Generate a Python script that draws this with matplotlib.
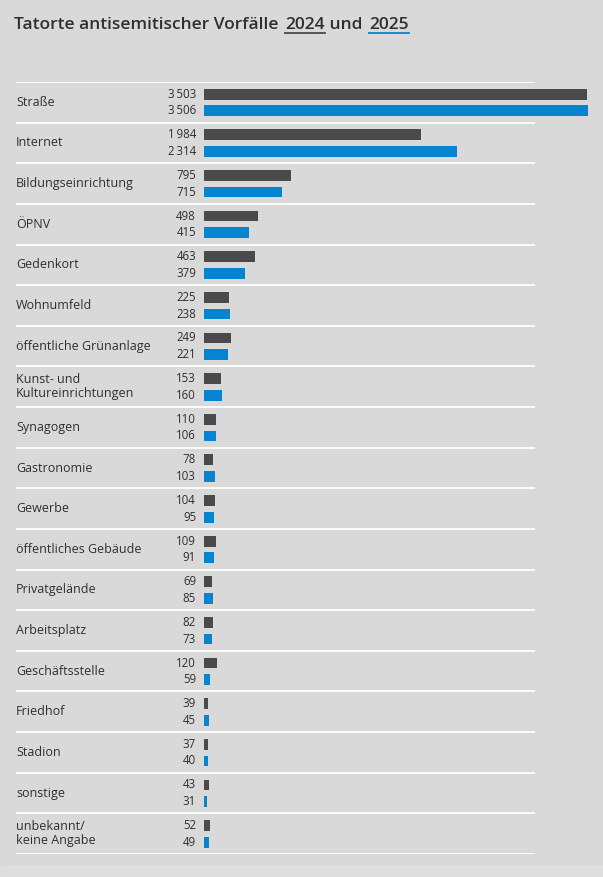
import matplotlib.pyplot as plt
from matplotlib.patches import Rectangle

categories = ["Straße", "Internet", "Bildungseinrichtung", "ÖPNV", "Gedenkort",
              "Wohnumfeld", "öffentliche Grünanlage", "Kunst- und\nKultureinrichtungen",
              "Synagogen", "Gastronomie", "Gewerbe", "öffentliches Gebäude",
              "Privatgelände", "Arbeitsplatz", "Geschäftsstelle", "Friedhof",
              "Stadion", "sonstige", "unbekannt/\nkeine Angabe"]
v2024 = [3503, 1984, 795, 498, 463, 225, 249, 153, 110, 78, 104, 109, 69, 82, 120, 39, 37, 43, 52]
v2025 = [3506, 2314, 715, 415, 379, 238, 221, 160, 106, 103, 95, 91, 85, 73, 59, 45, 40, 31, 49]

bg = "#d9d9d9"
c24 = "#4a4a4d"
c25 = "#0784cf"
txt = "#2f2f2f"
plt.rcParams['font.family'] = ['Open Sans', 'DejaVu Sans']

W, H = 603, 877
fig = plt.figure(figsize=(W / 100, H / 100), dpi=100, facecolor=bg)

# pixel layout
x_left, x_zero, x_max_px, x_sep_end = 16, 204, 587.5, 535
y_top, y_bot = 82, 854
px_per = (x_max_px - x_zero) / max(v2025)

ax = fig.add_axes([x_left / W, 1 - y_bot / H, (x_max_px + 1 - x_left) / W, (y_bot - y_top) / H])
ax.set_facecolor(bg)
ax.set_xlim(-(x_zero - x_left) / px_per, (x_max_px + 1 - x_zero) / px_per)
ax.set_ylim(len(categories), 0)
ax.axis("off")

n = len(categories)
pos24 = [i + 0.3 for i in range(n)]
pos25 = [i + 0.71 for i in range(n)]
ax.barh(pos24, v2024, height=0.265, color=c24, zorder=3)
ax.barh(pos25, v2025, height=0.265, color=c25, zorder=3)

ax.hlines(range(n + 1), ax.get_xlim()[0], (x_sep_end - x_zero) / px_per,
          color="white", lw=1.3, zorder=2)


def fmt(v):
    return f"{v:,}".replace(",", "\u2009")


num_x = -8 / px_per
for i, cat in enumerate(categories):
    ax.text(ax.get_xlim()[0], i + 0.5, cat, ha="left", va="center", fontsize=9.0,
            color=txt, linespacing=1.1)
    ax.text(num_x, pos24[i], fmt(v2024[i]), ha="right", va="center", fontsize=8.3, color=txt)
    ax.text(num_x, pos25[i], fmt(v2025[i]), ha="right", va="center", fontsize=8.3, color=txt)

# bottom band
fig.patches.append(Rectangle((0, 0), 1, 11 / H, transform=fig.transFigure,
                             color="#dedede", zorder=0))

# title assembled from pieces so the years can be underlined
parts = [("Tatorte antisemitischer Vorfälle ", None), ("2024", c24), (" und ", None), ("2025", c25)]
renderer = fig.canvas.get_renderer()
x = 14
base_y = 1 - 29 / H
for s, ucol in parts:
    t = fig.text(x / W, base_y, s, fontsize=12.5, fontweight="semibold", color=txt,
                 ha="left", va="baseline")
    bb = t.get_window_extent(renderer)
    if ucol is not None:
        fig.add_artist(plt.Line2D([bb.x0 / W, bb.x1 / W], [1 - 33 / H] * 2,
                                  color=ucol, lw=1.3, transform=fig.transFigure))
    x = bb.x1 + (2.4 if s.endswith(" ") else 0)

fig.savefig("out.png", dpi=100, facecolor=bg)
